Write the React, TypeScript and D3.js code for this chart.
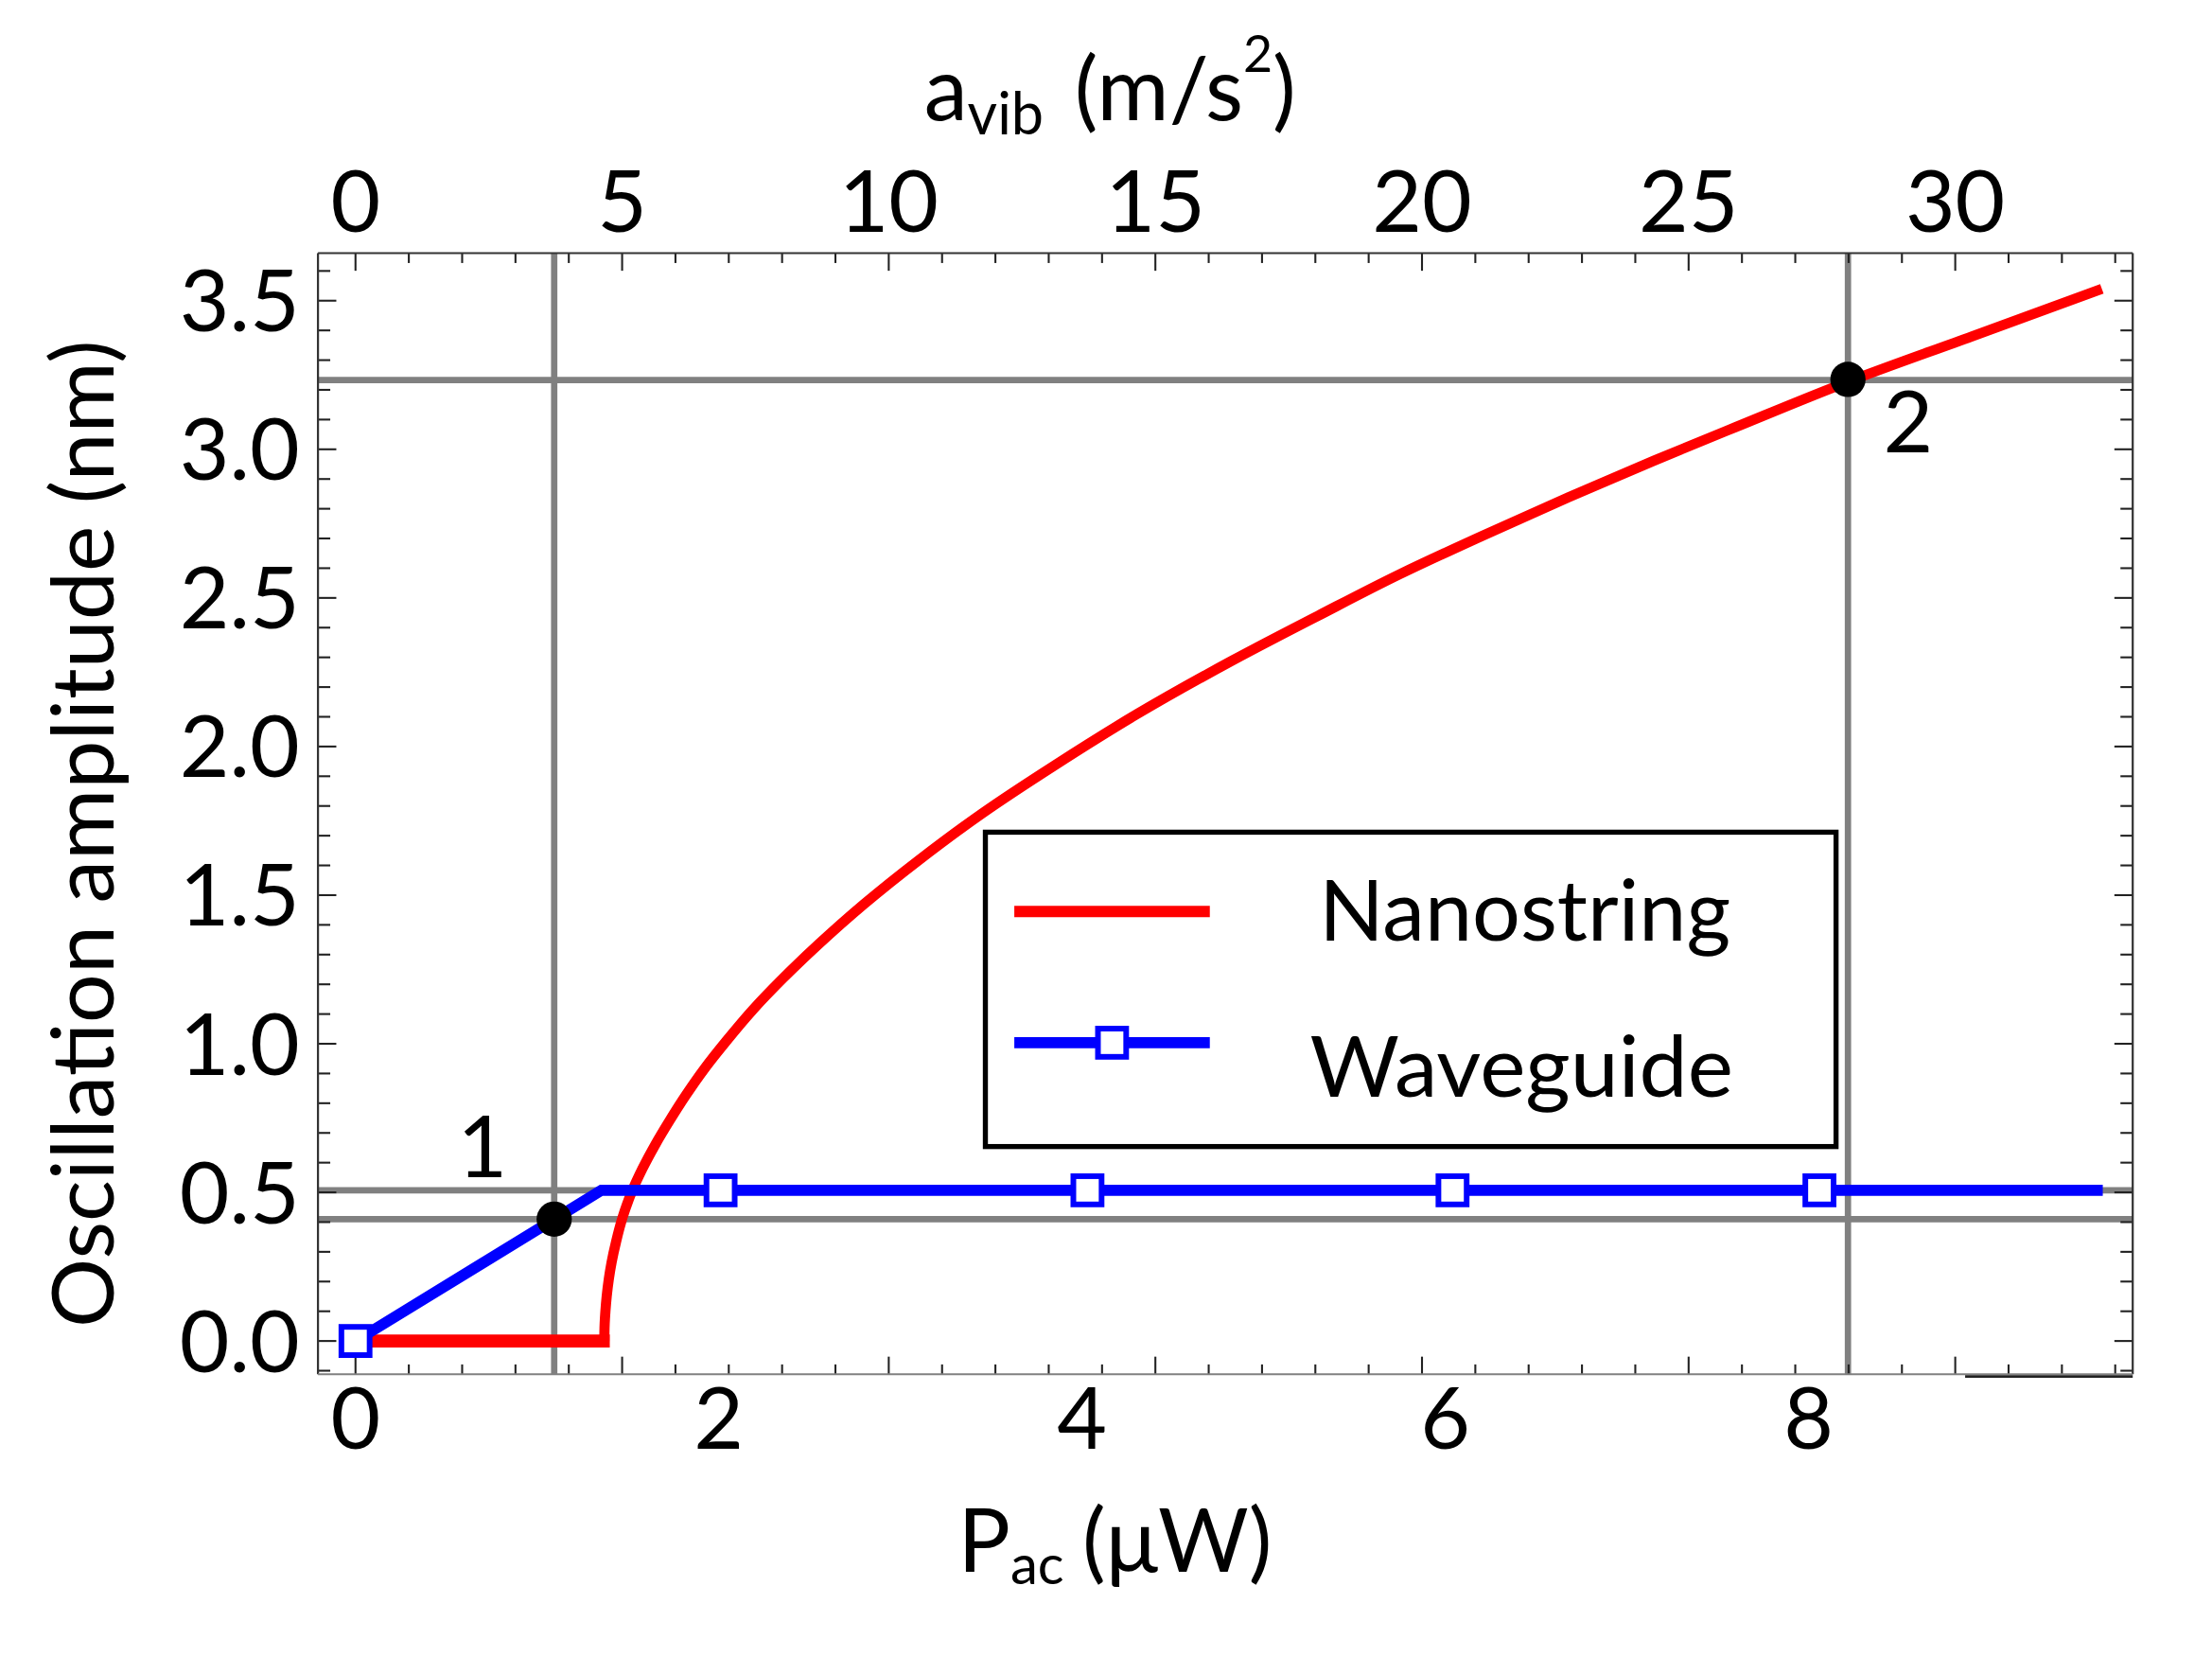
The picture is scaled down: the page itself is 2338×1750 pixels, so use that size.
import React from "react";
import * as d3 from "d3";

// ---------- data ----------
const pTicks = [0, 2, 4, 6, 8];
const aTicks = [0, 5, 10, 15, 20, 25, 30];
const aMinorTicks = d3.range(0, 34, 1);
const yTicks = [0, 0.5, 1.0, 1.5, 2.0, 2.5, 3.0, 3.5];
const yMinorTicks = d3.range(-1, 37, 1).map((d) => d / 10);

// Nanostring (red)
const nanoP = [0, 1.37, 1.3705, 1.372, 1.376, 1.383, 1.395, 1.41, 1.435, 1.47, 1.52, 1.58, 1.65, 1.73, 1.82, 1.92, 2.04, 2.19, 2.35, 2.55, 2.8, 3.1, 3.45, 3.85, 4.3, 4.83, 5.3, 5.75, 6.2, 6.68, 7.15, 7.6, 8.22, 8.9, 9.615];
const nanoA = [0, 0, 0.03, 0.06, 0.1, 0.15, 0.21, 0.265, 0.335, 0.415, 0.5, 0.58, 0.66, 0.742, 0.828, 0.915, 1.008, 1.116, 1.218, 1.335, 1.47, 1.617, 1.775, 1.937, 2.108, 2.29, 2.44, 2.58, 2.708, 2.839, 2.962, 3.075, 3.228, 3.38, 3.54];

// Waveguide (blue)
const waveP = [0, 1.354, 9.62];
const waveA = [0, 0.507, 0.507];
const waveMarkerP = [0, 2.01, 4.03, 6.04, 8.06];
const waveMarkerA = [0, 0.507, 0.507, 0.507, 0.507];

// Guide lines and highlighted points
const guideP = [1.094, 8.217];
const guideA = [0.507, 0.41, 3.233];
const pointP = [1.094, 8.217];
const pointA = [0.41, 3.235];
const pointLabels = ["1", "2"];

const seriesNames = ["Nanostring", "Waveguide"];

// ---------- layout (viewBox units) ----------
const VW = 1568;
const VH = 1750 / (2338 / 1568);
const frame = { left: 225.4, right: 1511.8, top: 179.4, bottom: 974 };
const FONT = "Lato, 'Open Sans', 'DejaVu Sans', sans-serif";

const x = d3.scaleLinear().domain([0, 8]).range([252, 1282]);
const xTop = d3.scaleLinear().domain([0, 30]).range([252, 1386]);
const y = d3.scaleLinear().domain([0, 3.5]).range([950.4, 213.1]);

const RED = "#ff0000";
const BLUE = "#0000ff";
const GRAY = "#808080";

export default function App() {
  const nano = nanoP.map((p, i) => [p, nanoA[i]] as [number, number]);
  const rising = nano.slice(1);
  const lineLin = d3
    .line<[number, number]>()
    .x((d) => x(d[0]))
    .y((d) => y(d[1]));
  const lineCurve = d3
    .line<[number, number]>()
    .x((d) => x(d[0]))
    .y((d) => y(d[1]))
    .curve(d3.curveMonotoneY);
  const wave = waveP.map((p, i) => [p, waveA[i]] as [number, number]);

  const markerSize = 20;

  return (
    <svg
      width={2338}
      height={1750}
      viewBox={`0 0 ${VW} ${VH}`}
      style={{ position: "absolute", left: 0, top: 0, display: "block", background: "#fff" }}
      fontFamily={FONT}
    >
      <rect x={0} y={0} width={VW} height={VH} fill="#fff" />

      {/* guide lines */}
      {guideP.map((p, i) => (
        <line key={"gv" + i} x1={x(p)} x2={x(p)} y1={frame.top} y2={frame.bottom} stroke={GRAY} strokeWidth={4.5} />
      ))}
      {guideA.map((a, i) => (
        <line key={"gh" + i} x1={frame.left} x2={frame.right} y1={y(a)} y2={y(a)} stroke={GRAY} strokeWidth={4.5} />
      ))}

      {/* frame ticks: top & bottom use a_vib spacing */}
      {aMinorTicks.map((a) => {
        const long = a % 5 === 0;
        const len = long ? 12.5 : 7;
        const xx = xTop(a);
        return (
          <g key={"at" + a}>
            <line x1={xx} x2={xx} y1={frame.top} y2={frame.top + len} stroke="#222" strokeWidth={1.4} />
            <line x1={xx} x2={xx} y1={frame.bottom} y2={frame.bottom - len} stroke="#222" strokeWidth={1.4} />
          </g>
        );
      })}
      {yMinorTicks.map((v) => {
        const long = Math.abs(Math.round(v * 10) % 5) === 0;
        const len = long ? 13 : 8.7;
        const yy = y(v);
        return (
          <g key={"yt" + v}>
            <line x1={frame.left} x2={frame.left + len} y1={yy} y2={yy} stroke="#222" strokeWidth={1.4} />
            <line x1={frame.right} x2={frame.right - len} y1={yy} y2={yy} stroke="#222" strokeWidth={1.4} />
          </g>
        );
      })}

      {/* Nanostring */}
      <path d={lineLin([[nano[0][0], nano[0][1]], [1.4, 0]]) || ""} fill="none" stroke={RED} strokeWidth={9.2} />
      <path d={lineCurve(rising) || ""} fill="none" stroke={RED} strokeWidth={7.2} strokeLinejoin="round" />

      {/* Waveguide */}
      <path d={lineLin(wave) || ""} fill="none" stroke={BLUE} strokeWidth={7.8} strokeLinejoin="miter" />
      {waveMarkerP.map((p, i) => (
        <rect
          key={"wm" + i}
          x={x(p) - markerSize / 2}
          y={y(waveMarkerA[i]) - markerSize / 2}
          width={markerSize}
          height={markerSize}
          fill="#fff"
          stroke={BLUE}
          strokeWidth={4}
        />
      ))}

      {/* highlighted points */}
      {pointP.map((p, i) => (
        <circle key={"pt" + i} cx={x(p)} cy={y(pointA[i])} r={12.5} fill="#000" />
      ))}
      <text x={342} y={834} fontSize={61} textAnchor="middle" fill="#000">{pointLabels[0]}</text>
      <text x={1352.6} y={320.8} fontSize={61} textAnchor="middle" fill="#000">{pointLabels[1]}</text>

      {/* frame */}
      <line x1={frame.left} x2={frame.right} y1={frame.top} y2={frame.top} stroke="#333" strokeWidth={1.5} />
      <line x1={frame.left} x2={frame.left} y1={frame.top} y2={frame.bottom} stroke="#333" strokeWidth={1.5} />
      <line x1={frame.right} x2={frame.right} y1={frame.top} y2={frame.bottom} stroke="#333" strokeWidth={1.5} />
      <line x1={frame.left} x2={frame.right} y1={frame.bottom} y2={frame.bottom} stroke="#808080" strokeWidth={1.3} />
      <line x1={1393} x2={frame.right} y1={frame.bottom + 1.5} y2={frame.bottom + 1.5} stroke="#222" strokeWidth={1.8} />

      {/* tick labels */}
      {yTicks.map((v) => (
        <text key={"yl" + v} x={212.4} y={y(v) + 21.8} fontSize={61} textAnchor="end" fill="#000">
          {v.toFixed(1)}
        </text>
      ))}
      {pTicks.map((p) => (
        <text key={"pl" + p} x={x(p)} y={1026.7} fontSize={61} textAnchor="middle" fill="#000">
          {p}
        </text>
      ))}
      {aTicks.map((a) => (
        <text key={"al" + a} x={xTop(a)} y={164.3} fontSize={61} textAnchor="middle" fill="#000">
          {a}
        </text>
      ))}

      {/* axis titles */}
      <text x={655} y={85} fontSize={62} fill="#000">
        a
        <tspan fontSize={41} dy={10}>vib</tspan>
        <tspan dy={-10} dx={6}>{" (m/s"}</tspan>
        <tspan fontSize={36} dy={-34}>2</tspan>
        <tspan dy={34}>)</tspan>
      </text>

      <text x={679} y={1114} fontSize={62} fill="#000">
        P
        <tspan fontSize={39} dy={9}>ac</tspan>
        <tspan dy={-9} dx={13}>{"(μW)"}</tspan>
      </text>

      <text
        transform="translate(80.5,591) rotate(-90)"
        fontSize={61}
        textAnchor="middle"
        fill="#000"
        textLength={700}
        lengthAdjust="spacingAndGlyphs"
      >
        Oscillation amplitude (nm)
      </text>

      {/* legend */}
      <rect x={698.5} y={589.8} width={603} height={222.8} fill="#fff" stroke="#000" strokeWidth={3.6} />
      <line x1={719} x2={857.6} y1={646} y2={646} stroke={RED} strokeWidth={8} />
      <line x1={719} x2={857.6} y1={739} y2={739} stroke={BLUE} strokeWidth={8} />
      <rect x={788.3 - markerSize / 2} y={739 - markerSize / 2} width={markerSize} height={markerSize} fill="#fff" stroke={BLUE} strokeWidth={4} />
      <text x={935} y={666.7} fontSize={60} fill="#000" textLength={291.7} lengthAdjust="spacingAndGlyphs">
        {seriesNames[0]}
      </text>
      <text x={928.6} y={777.3} fontSize={60} fill="#000" textLength={300} lengthAdjust="spacingAndGlyphs">
        {seriesNames[1]}
      </text>
    </svg>
  );
}
